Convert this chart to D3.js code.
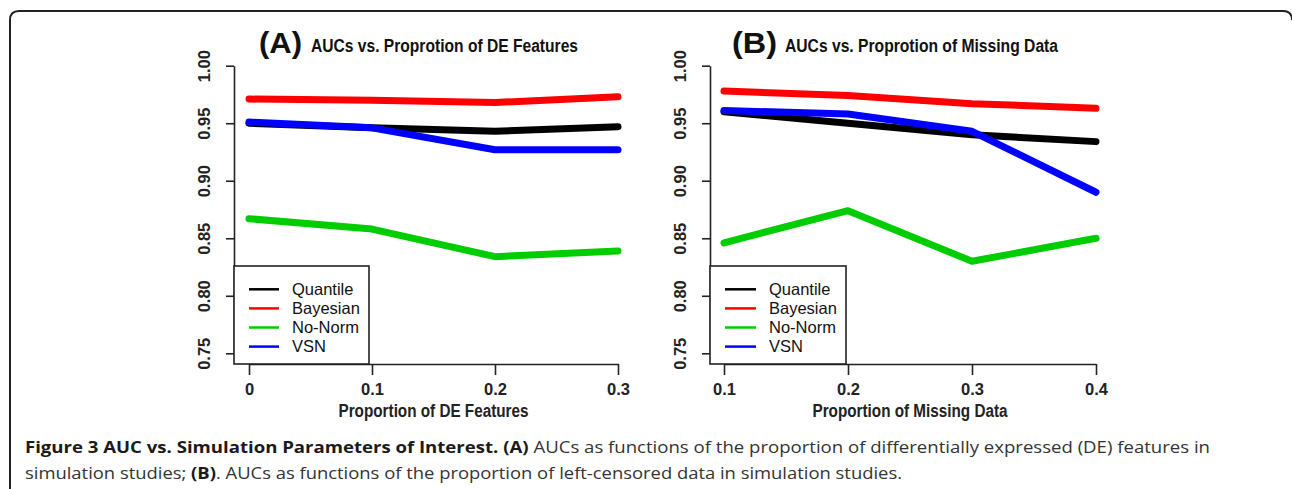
<!DOCTYPE html>
<html>
<head>
<meta charset="utf-8">
<script src="https://cdn.jsdelivr.net/npm/d3@7"></script>
<style>
  body { margin: 0; background: #fff; }
  svg { display: block; }
</style>
</head>
<body>
<svg id="fig" width="1292" height="489"></svg>
<script>
// series, in legend order
const methods = ["Quantile", "Bayesian", "No-Norm", "VSN"];
const colors = ["#000000", "#ff0000", "#00cd00", "#0000ff"];

// panel A: proportion of DE features
const deProps = [0, 0.1, 0.2, 0.3];
const deQuantile = [0.950, 0.946, 0.943, 0.947];
const deBayesian = [0.971, 0.970, 0.968, 0.973];
const deNoNorm   = [0.867, 0.858, 0.834, 0.839];
const deVSN      = [0.951, 0.946, 0.927, 0.927];

// panel B: proportion of missing data
const missProps = [0.1, 0.2, 0.3, 0.4];
const missQuantile = [0.960, 0.950, 0.940, 0.934];
const missBayesian = [0.978, 0.974, 0.967, 0.963];
const missNoNorm   = [0.846, 0.874, 0.830, 0.850];
const missVSN      = [0.961, 0.958, 0.943, 0.890];

const yTicks = [0.75, 0.80, 0.85, 0.90, 0.95, 1.00];

const svg = d3.select("#fig");
const font = "'Liberation Sans', Arial, sans-serif";

// figure frame (open at the bottom, like the journal box)
svg.append("path")
    .attr("d", "M10,489 V20 Q10,11 19,11 H1283 Q1292,11 1292,20")
    .attr("fill", "none")
    .attr("stroke", "#222")
    .attr("stroke-width", 2);

const panels = [
  {
    tag: "(A)", title: "AUCs vs. Proprotion of DE Features", xlab: "Proportion of DE Features",
    xs: deProps, series: [deQuantile, deBayesian, deNoNorm, deVSN],
    axisX: 234, range: [249, 618], tagX: 259, tagW: 43, titleX: 311, titleW: 267, xlabW: 190,
    legendRight: 369, legendLine: [249, 279], legendText: 292,
    xFmt: d => d === 0 ? "0" : d3.format(".1f")(d)
  },
  {
    tag: "(B)", title: "AUCs vs. Proprotion of Missing Data", xlab: "Proportion of Missing Data",
    xs: missProps, series: [missQuantile, missBayesian, missNoNorm, missVSN],
    axisX: 710, range: [724, 1096], tagX: 732, tagW: 45, titleX: 785, titleW: 273, xlabW: 195,
    legendRight: 846, legendLine: [725, 756], legendText: 769,
    xFmt: d3.format(".1f")
  }
];

const plotBottom = 364;
const y = d3.scaleLinear().domain([0.75, 1.0]).range([353.3, 65.7]);

panels.forEach(p => {
  const g = svg.append("g");
  const x = d3.scaleLinear().domain(d3.extent(p.xs)).range(p.range);

  // y axis
  const ya = g.append("g")
      .attr("transform", `translate(${p.axisX},0)`)
      .call(d3.axisLeft(y).tickValues(yTicks).tickFormat(d3.format(".2f")).tickSize(8).tickSizeOuter(0));
  ya.selectAll("text")
      .attr("transform", "rotate(-90)")
      .attr("x", 0).attr("y", -24).attr("dy", 0)
      .attr("text-anchor", "middle");

  // x axis
  const xa = g.append("g")
      .attr("transform", `translate(0,${plotBottom})`)
      .call(d3.axisBottom(x).tickValues(p.xs).tickFormat(p.xFmt).tickSize(11).tickSizeOuter(0));
  xa.selectAll("text").attr("y", 31).attr("dy", 0);

  [ya, xa].forEach(a => {
    a.attr("font-family", font).attr("font-size", 16.5).attr("font-weight", "bold");
    a.selectAll("text").attr("fill", "#222");
    a.selectAll("path, line").attr("stroke", "#222").attr("stroke-width", 1.6);
  });

  // title
  g.append("text")
      .attr("x", p.tagX).attr("y", 53)
      .attr("textLength", p.tagW).attr("lengthAdjust", "spacingAndGlyphs")
      .attr("font-family", font).attr("font-weight", "bold").attr("font-size", 29)
      .attr("fill", "#111")
      .text(p.tag);
  g.append("text")
      .attr("x", p.titleX).attr("y", 52)
      .attr("textLength", p.titleW).attr("lengthAdjust", "spacingAndGlyphs")
      .attr("font-family", font).attr("font-weight", "bold").attr("font-size", 17.5)
      .attr("fill", "#111")
      .text(p.title);

  // x label
  g.append("text")
      .attr("x", (p.range[0] + p.range[1]) / 2).attr("y", 417)
      .attr("text-anchor", "middle")
      .attr("textLength", p.xlabW).attr("lengthAdjust", "spacingAndGlyphs")
      .attr("font-family", font).attr("font-weight", "bold").attr("font-size", 18)
      .attr("fill", "#222")
      .text(p.xlab);

  // lines
  const line = d3.line().x((d, i) => x(p.xs[i])).y(d => y(d));
  g.selectAll(".series")
    .data(p.series)
    .join("path")
      .attr("class", "series")
      .attr("d", line)
      .attr("fill", "none")
      .attr("stroke", (d, i) => colors[i])
      .attr("stroke-width", 7)
      .attr("stroke-linecap", "round")
      .attr("stroke-linejoin", "round");

  // legend
  const lg = g.append("g");
  lg.append("rect")
      .attr("x", p.axisX).attr("y", 266)
      .attr("width", p.legendRight - p.axisX).attr("height", plotBottom - 266)
      .attr("fill", "#fff")
      .attr("stroke", "#222").attr("stroke-width", 1.6);
  const rows = lg.selectAll(".row")
    .data(methods)
    .join("g")
      .attr("transform", (d, i) => `translate(0,${289.3 + i * 19.1})`);
  rows.append("line")
      .attr("x1", p.legendLine[0]).attr("x2", p.legendLine[1])
      .attr("stroke", (d, i) => colors[i])
      .attr("stroke-width", 2.5);
  rows.append("text")
      .attr("x", p.legendText).attr("y", 5.8)
      .attr("font-family", font).attr("font-size", 16.5)
      .attr("fill", "#111")
      .text(d => d);
});

// caption
const cap = svg.append("g")
    .attr("font-family", "'Open Sans', 'Noto Sans', sans-serif")
    .attr("font-size", 16.5)
    .attr("fill", "#333");
const l1 = cap.append("text").attr("x", 25).attr("y", 453)
    .attr("textLength", 1185).attr("lengthAdjust", "spacingAndGlyphs");
l1.append("tspan").attr("font-weight", "bold").attr("fill", "#1a1a1a")
  .text("Figure 3 AUC vs. Simulation Parameters of Interest. (A)");
l1.append("tspan").text(" AUCs as functions of the proportion of differentially expressed (DE) features in");
const l2 = cap.append("text").attr("x", 25).attr("y", 479)
    .attr("textLength", 877).attr("lengthAdjust", "spacingAndGlyphs");
l2.append("tspan").text("simulation studies; ");
l2.append("tspan").attr("font-weight", "bold").attr("fill", "#1a1a1a").text("(B)");
l2.append("tspan").text(". AUCs as functions of the proportion of left-censored data in simulation studies.");
</script>
</body>
</html>
